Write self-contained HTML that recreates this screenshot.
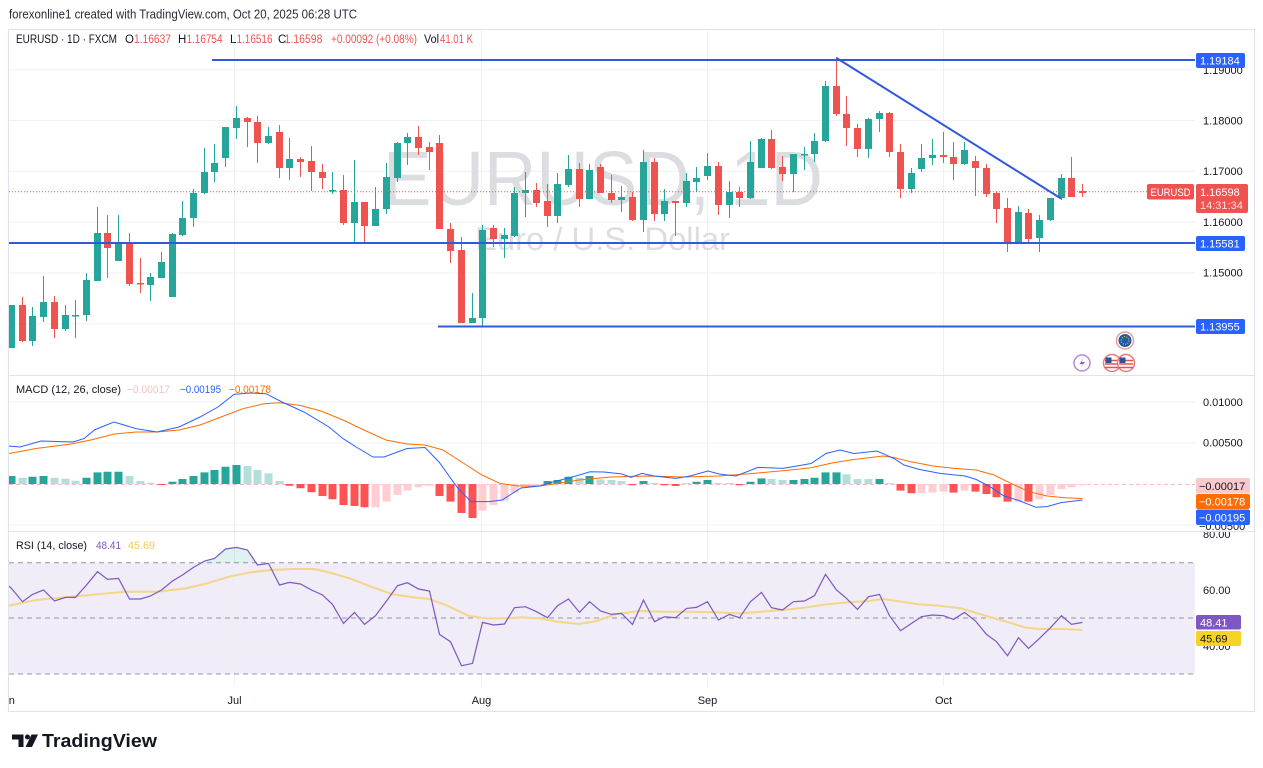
<!DOCTYPE html>
<html><head><meta charset="utf-8"><style>
html,body{margin:0;padding:0;background:#fff;}
svg{display:block;font-family:"Liberation Sans",Arial,sans-serif;}
</style></head><body>
<svg width="1263" height="768" viewBox="0 0 1263 768" xmlns="http://www.w3.org/2000/svg">
<defs>
<clipPath id="cm"><rect x="9" y="30" width="1186" height="345"/></clipPath>
<clipPath id="cd"><rect x="9" y="376" width="1186" height="155"/></clipPath>
<clipPath id="cr"><rect x="9" y="532" width="1186" height="154"/></clipPath>
<clipPath id="axm"><rect x="1195" y="30" width="60" height="345"/></clipPath>
<clipPath id="axd"><rect x="1195" y="376" width="60" height="155"/></clipPath>
<clipPath id="axr"><rect x="1195" y="532" width="60" height="154"/></clipPath>
<clipPath id="ct"><rect x="9" y="686" width="1186" height="26"/></clipPath>
</defs>
<rect width="1263" height="768" fill="#fff"/>
<text x="9" y="18.5" font-size="12.5" fill="#2a2e39" textLength="348" lengthAdjust="spacingAndGlyphs">forexonline1 created with TradingView.com, Oct 20, 2025 06:28 UTC</text>

<!-- frame -->
<rect x="8.5" y="29.5" width="1246" height="682" fill="none" stroke="#e0e3eb"/>

<!-- RSI band -->
<rect x="9" y="562.7" width="1186" height="111.3" fill="#f0ecf8"/>

<!-- grids -->
<g stroke="#eef0f4" stroke-width="1">
<path d="M9 69.7H1195M9 120.5H1195M9 171.3H1195M9 222H1195M9 272.9H1195M9 323.7H1195"/>
<path d="M9 402H1195M9 443H1195M9 525H1195"/>
<path d="M9 590H1195M9 646H1195"/>
<path d="M234.5 30V686M481.5 30V686M707.5 30V686M943.5 30V686"/>
</g>

<!-- watermark -->
<text x="383" y="205" font-size="77" fill="#dcdde0" textLength="440" lengthAdjust="spacingAndGlyphs">EURUSD, 1D</text>
<text x="475" y="250" font-size="32" fill="#dcdde0" textLength="255" lengthAdjust="spacingAndGlyphs">Euro / U.S. Dollar</text>

<g clip-path="url(#cm)">
<!-- green candles -->
<path fill="none" stroke="#26a69a" stroke-width="1" d="M11.5 305V348M32.5 307V346M43.5 276V322M65.5 305V331M75.5 300V338M86.5 273V321M97.5 207V281M118.5 215V261M150.5 273V301M161.5 252V278M172.5 233V297M182.5 201V236M193.5 189V227M204.5 148V194M214.5 144V182M225.5 127V167M236.5 106V139M268.5 127V144M289.5 138V180M332.5 172V194M354.5 160V242M375.5 187V226M386.5 163V214M397.5 142V182M407.5 133V165M472.5 293V323M482.5 225V327M504.5 228V258M514.5 187V237M525.5 172V217M557.5 173V223M568.5 155V187M589.5 164V199M621.5 186V212M643.5 150V232M664.5 189V221M686.5 173V207M696.5 167V192M707.5 153V180M729.5 181V218M750.5 141V199M761.5 138V168M793.5 154V192M804.5 147V170M814.5 133V162M825.5 81V142M868.5 118V158M879.5 111V132M911.5 168V193M921.5 144V172M932.5 139V165M964.5 142V165M1018.5 206V243M1039.5 215V252M1050.5 198V221M1061.5 174V200"/>
<path fill="#26a69a" d="M8 305h7V348h-7zM29 316h7V341h-7zM40 302h7V317h-7zM62 315h7V329h-7zM72 315h7V316.5h-7zM83 280h7V315h-7zM94 233h7V281h-7zM115 243h7V261h-7zM147 277h7V285h-7zM158 262h7V278h-7zM169 234h7V297h-7zM179 218h7V235h-7zM190 193h7V218h-7zM201 172h7V193h-7zM211 163h7V172h-7zM222 127h7V158h-7zM233 118h7V128h-7zM265 136h7V143h-7zM286 159h7V168h-7zM329 190h7V191.5h-7zM351 202h7V223h-7zM372 209h7V226h-7zM383 177h7V209h-7zM394 143h7V178h-7zM404 137h7V143h-7zM469 318h7V323h-7zM479 230h7V318h-7zM501 235h7V239h-7zM511 193h7V236h-7zM522 190h7V193h-7zM554 184h7V216h-7zM565 169h7V185h-7zM586 170h7V199h-7zM618 197h7V200h-7zM640 162h7V220h-7zM661 201h7V214h-7zM683 181h7V203h-7zM693 178h7V182h-7zM704 166h7V176h-7zM726 192h7V205h-7zM747 162h7V198h-7zM758 139h7V168h-7zM790 154h7V174h-7zM801 154h7V155.5h-7zM811 141h7V154h-7zM822 86h7V141h-7zM865 119h7V149h-7zM876 113h7V119h-7zM908 173h7V189h-7zM918 158h7V169h-7zM929 155h7V158h-7zM961 150h7V164h-7zM1015 212h7V242h-7zM1036 220h7V238h-7zM1047 198h7V220h-7zM1058 178h7V198h-7z"/>
<!-- red candles -->
<path fill="none" stroke="#ef5350" stroke-width="1" d="M22.5 297V342M54.5 296V338M107.5 215V278M129.5 233V286M140.5 258V293M247.5 117V147M257.5 116V163M279.5 125V178M300.5 157V177M311.5 146V191M322.5 164V189M343.5 175V225M364.5 202V243M418.5 126V155M429.5 142V170M439.5 135V229M450.5 223V263M461.5 237V323M493.5 225V247M536.5 183V207M547.5 184V227M579.5 163V207M600.5 164V193M611.5 175V203M632.5 192V221M654.5 158V221M675.5 201V236M718.5 162V215M739.5 187V207M771.5 130V169M782.5 156V181M836.5 57V116M846.5 96V146M857.5 124V157M889.5 112V157M900.5 144V198M943.5 132V163M953.5 142V180M975.5 156V196M986.5 164V197M996.5 191V223M1007.5 198V252M1028.5 209V243M1071.5 157V197M1082.5 184V197"/>
<path fill="#ef5350" d="M19 305h7V341h-7zM51 302h7V329h-7zM104 233h7V248h-7zM126 243h7V284h-7zM137 283h7V284.5h-7zM244 118h7V122h-7zM254 122h7V143h-7zM276 132h7V168h-7zM297 159h7V162h-7zM308 161h7V172h-7zM319 172h7V178h-7zM340 190h7V223h-7zM361 202h7V226h-7zM415 137h7V148h-7zM426 147h7V152h-7zM436 143h7V229h-7zM447 229h7V251h-7zM458 250h7V323h-7zM490 228h7V239h-7zM533 190h7V203h-7zM544 201h7V216h-7zM576 169h7V199h-7zM597 167h7V193h-7zM608 193h7V200h-7zM629 197h7V220h-7zM651 162h7V214h-7zM672 201h7V203h-7zM715 166h7V205h-7zM736 192h7V198h-7zM768 139h7V168h-7zM779 167h7V174h-7zM833 86h7V114h-7zM843 114h7V128h-7zM854 128h7V149h-7zM886 113h7V152h-7zM897 152h7V189h-7zM940 155h7V157h-7zM950 157h7V164h-7zM972 161h7V168h-7zM983 168h7V194h-7zM993 193h7V209h-7zM1004 208h7V242h-7zM1025 213h7V239h-7zM1068 178h7V197h-7zM1079 191h7V193h-7z"/>
<!-- price line -->
<path d="M9 191.7H1148" stroke="#ef5350" stroke-width="1" stroke-dasharray="1,2"/>
<!-- drawings -->
<g stroke="#2f5bd8" stroke-width="2" fill="none">
<path d="M212 60H1196"/>
<path d="M9 243H1196"/>
<path d="M438 326.5H1196"/>
<path d="M836.5 58L1061 198.5"/>
</g>
</g>

<!-- pane separators -->
<path d="M8.5 375.5H1254.5M8.5 531.5H1254.5" stroke="#e0e3eb" stroke-width="1"/>

<!-- MACD -->
<g clip-path="url(#cd)">
<path d="M9 484.5H1195" stroke="#f4bcc2" stroke-width="1" stroke-dasharray="4,3"/>
<path fill="#26a69a" d="M7.5 476h8V484h-8zM28.5 476.7h8V484h-8zM39.5 476h8V484h-8zM82.5 477.7h8V484h-8zM93.5 472.4h8V484h-8zM103.5 471.7h8V484h-8zM114.5 471.7h8V484h-8zM168.5 481.7h8V484h-8zM178.5 479h8V484h-8zM189.5 476h8V484h-8zM200.5 472.4h8V484h-8zM210.5 470h8V484h-8zM221.5 466.7h8V484h-8zM232.5 465h8V484h-8zM543.5 481h8V484h-8zM553.5 480h8V484h-8zM564.5 476.7h8V484h-8zM585.5 476h8V484h-8zM639.5 481h8V484h-8zM692.5 481.7h8V484h-8zM703.5 480h8V484h-8zM746.5 481.7h8V484h-8zM757.5 478.4h8V484h-8zM789.5 480h8V484h-8zM800.5 479h8V484h-8zM810.5 477.7h8V484h-8zM821.5 472.4h8V484h-8zM832.5 472.4h8V484h-8zM875.5 479h8V484h-8z"/>
<path fill="#b2dfdb" d="M18.5 477.7h8V484h-8zM50.5 477.7h8V484h-8zM61.5 478.7h8V484h-8zM71.5 480.7h8V484h-8zM125.5 476h8V484h-8zM136.5 481h8V484h-8zM146.5 482.7h8V484h-8zM243.5 466h8V484h-8zM253.5 470h8V484h-8zM264.5 473.4h8V484h-8zM275.5 481h8V484h-8zM575.5 477.7h8V484h-8zM596.5 479.4h8V484h-8zM607.5 480h8V484h-8zM617.5 481h8V484h-8zM650.5 483h8V484h-8zM682.5 483h8V484h-8zM714.5 483h8V484h-8zM725.5 483h8V484h-8zM767.5 479h8V484h-8zM778.5 480h8V484h-8zM842.5 474.4h8V484h-8zM853.5 479h8V484h-8zM864.5 479h8V484h-8zM885.5 483h8V484h-8z"/>
<path fill="#ff5252" d="M157.5 484h8V485h-8zM285.5 484h8V485.7h-8zM296.5 484h8V488.3h-8zM307.5 484h8V492.3h-8zM318.5 484h8V496h-8zM328.5 484h8V499.3h-8zM339.5 484h8V505h-8zM350.5 484h8V506h-8zM360.5 484h8V507.3h-8zM435.5 484h8V496h-8zM446.5 484h8V501.6h-8zM457.5 484h8V513h-8zM468.5 484h8V518h-8zM628.5 484h8V485.3h-8zM660.5 484h8V485.3h-8zM671.5 484h8V486h-8zM735.5 484h8V485.3h-8zM896.5 484h8V490.6h-8zM907.5 484h8V493.3h-8zM949.5 484h8V492.6h-8zM971.5 484h8V491.6h-8zM982.5 484h8V494h-8zM992.5 484h8V497.3h-8zM1003.5 484h8V501.6h-8zM1024.5 484h8V501.6h-8z"/>
<path fill="#ffcdd2" d="M371.5 484h8V507.3h-8zM382.5 484h8V501.6h-8zM393.5 484h8V495h-8zM403.5 484h8V490.6h-8zM414.5 484h8V487.3h-8zM425.5 484h8V486h-8zM478.5 484h8V510.6h-8zM489.5 484h8V505h-8zM500.5 484h8V500.6h-8zM510.5 484h8V492.6h-8zM521.5 484h8V487.3h-8zM532.5 484h8V486h-8zM917.5 484h8V493.3h-8zM928.5 484h8V492.6h-8zM939.5 484h8V491.6h-8zM960.5 484h8V490.6h-8zM1014.5 484h8V501.6h-8zM1035.5 484h8V499.3h-8zM1046.5 484h8V495h-8zM1057.5 484h8V489.3h-8zM1067.5 484h8V487.3h-8zM1078.5 484h8V485.4h-8z"/>
<polyline fill="none" stroke="#ff6d00" stroke-width="1" points="9,453.5 36,448.5 71,444 93,439.5 114,434 136,432 157,432 179,430 200,425 221,417 243,408.7 264,403.7 279,402.7 300,405.4 321,411 343,420 364,430 386,440 407,444 425,445 443,450 464,463.5 482,475 500,483.4 518,486 540,486 558,483.4 579,480 611,477 647,476 683,477 719,476 754,473.4 790,470 811,467.8 833,462.8 854,459.5 883,456 894,457.5 911,461.8 933,466 954,468.4 976,470 994,475 1011,483.4 1029,491.7 1047,496 1065,497.7 1082.5,498.6"/>
<polyline fill="none" stroke="#2962ff" stroke-width="1" points="9,446 20,447 41,441 73,442 84,438.6 95,429.6 114,422 136,428.6 157,432 179,427 200,417 218,407 234,394.4 250,393 266,393.7 282,402 304,412 329,427 343,438.6 357,447.5 373,457 384,457 407,448.5 425,447.5 439,462 457,487 471,501.6 489,501.6 502,500 521,488 540,486 554,481.7 576,476 590,471.8 604,472 622,474 631,477.4 642,473.4 654,476 676,478.4 690,476 708,471 719,474 736,476 758,467.4 783,468.4 797,466 811,463.5 826,453.5 840,450 854,453.5 877,451 894,458.5 904,465 919,469.4 940,473.4 965,476 976,479.4 990,486.7 1004,496 1019,500.6 1036,507.3 1047,506.6 1061,502.6 1082.5,500"/>
</g>

<!-- RSI -->
<g clip-path="url(#cr)">
<g stroke="#9598a1" stroke-width="1" stroke-dasharray="5,4">
<path d="M9 562.7H1195M9 618H1195M9 674H1195"/>
</g>
<polygon points="200,562.7 204.5,561 214.5,558.4 225.5,549 236.5,547.4 247.5,550 255.5,562.7" fill="rgba(38,166,154,0.15)"/>
<polyline fill="none" stroke="#f3d68a" stroke-width="2" points="9,605.7 36,600 71,596.7 107,593.4 125,591.7 157,591.7 186,588.4 207,583.4 229,576.7 250,572.4 271,570 293,569 314,569 329,572.4 350,578.4 371,586.7 393,594.4 414,597.4 429,599 446,605 468,615.7 486,618.4 507,618.4 521,617.4 540,618.4 558,621.7 579,624 597,621 615,614.4 640,611 665,611.7 690,611.7 719,612.4 740,613.4 761,611.7 783,610 804,607.7 826,604.4 847,602.4 869,601 883,599 897,601 919,604.4 940,605.7 961,608.4 983,615 1004,621 1026,627.7 1040,629 1061,629 1082.5,630"/>
<polyline fill="none" stroke="#7e57c2" stroke-width="1.2" points="9,586 11.5,588.4 22.5,601.7 32.5,594.4 43.5,590 54.5,601 65.5,597.4 75.5,597.4 86.5,585 97.5,571.7 107.5,579.4 118.5,578.4 129.5,599 140.5,599 150.5,596 161.5,590 172.5,581 182.5,575 193.5,567.4 204.5,561 214.5,558.4 225.5,549 236.5,547.4 247.5,550 257.5,565 268.5,563.4 279.5,585 289.5,582.4 300.5,584 311.5,590 322.5,595 332.5,604.4 343.5,623.4 354.5,612.4 364.5,624.4 375.5,615.7 386.5,601 397.5,585.7 407.5,582.7 418.5,589 429.5,591 439.5,634.4 450.5,641.7 461.5,665.7 472.5,663.4 482.5,622.4 493.5,625 504.5,624 514.5,607.7 525.5,606.7 536.5,611.7 547.5,617.7 557.5,605.7 568.5,599 579.5,612.4 589.5,601.7 600.5,611 611.5,614.4 621.5,613.4 632.5,624.4 643.5,600 654.5,621.7 664.5,616.7 675.5,617.7 686.5,608.4 696.5,607.4 707.5,601.7 718.5,620 729.5,614.4 739.5,617.7 750.5,601.7 761.5,592.4 771.5,607.7 782.5,610 793.5,601.7 804.5,601 814.5,595.7 825.5,574.4 836.5,590 846.5,598.4 857.5,609.4 868.5,596.7 879.5,594.4 889.5,615.7 900.5,630.7 911.5,623.4 921.5,616.7 932.5,615 943.5,615.7 953.5,619.4 964.5,612.4 975.5,621 986.5,634.4 996.5,641.7 1007.5,655.7 1018.5,637.7 1028.5,648.4 1039.5,638.4 1050.5,627.7 1061.5,615.7 1071.5,624.4 1082.5,622.4"/>
</g>

<!-- legends -->
<g font-size="11.5" fill="#131722">
<text x="16" y="43" textLength="101" lengthAdjust="spacingAndGlyphs">EURUSD · 1D · FXCM</text>
<text x="125" y="43">O</text>
<text x="178" y="43">H</text>
<text x="230" y="43">L</text>
<text x="278" y="43">C</text>
<text x="424" y="43" textLength="15" lengthAdjust="spacingAndGlyphs">Vol</text>
</g>
<g font-size="11.5" fill="#ef5350">
<text x="134" y="43" textLength="37" lengthAdjust="spacingAndGlyphs">1.16637</text>
<text x="186.5" y="43" textLength="36" lengthAdjust="spacingAndGlyphs">1.16754</text>
<text x="236.5" y="43" textLength="36" lengthAdjust="spacingAndGlyphs">1.16516</text>
<text x="284.5" y="43" textLength="38" lengthAdjust="spacingAndGlyphs">1.16598</text>
<text x="331" y="43" textLength="86" lengthAdjust="spacingAndGlyphs">+0.00092 (+0.08%)</text>
<text x="440" y="43" textLength="33" lengthAdjust="spacingAndGlyphs">41.01 K</text>
</g>
<g font-size="11">
<text x="16" y="393" fill="#131722" textLength="105" lengthAdjust="spacingAndGlyphs">MACD (12, 26, close)</text>
<text x="127" y="393" fill="#f5c0c6" textLength="43" lengthAdjust="spacingAndGlyphs">−0.00017</text>
<text x="180" y="393" fill="#2962ff" textLength="41" lengthAdjust="spacingAndGlyphs">−0.00195</text>
<text x="229" y="393" fill="#ff6d00" textLength="42" lengthAdjust="spacingAndGlyphs">−0.00178</text>
<text x="16" y="549" fill="#131722" textLength="71" lengthAdjust="spacingAndGlyphs">RSI (14, close)</text>
<text x="96" y="549" fill="#7e57c2" textLength="25" lengthAdjust="spacingAndGlyphs">48.41</text>
<text x="128" y="549" fill="#f2cd4b" textLength="27" lengthAdjust="spacingAndGlyphs">45.69</text>
</g>

<!-- price axis -->
<g font-size="11" fill="#131722">
<g clip-path="url(#axm)">
<text x="1203" y="74">1.19000</text>
<text x="1203" y="124.5">1.18000</text>
<text x="1203" y="175">1.17000</text>
<text x="1203" y="226">1.16000</text>
<text x="1203" y="276.5">1.15000</text>
<text x="1203" y="327.5">1.14000</text>
</g>
<g clip-path="url(#axd)">
<text x="1203" y="406">0.01000</text>
<text x="1203" y="446.5">0.00500</text>
<text x="1199" y="530">−0.00500</text>
</g>
<g clip-path="url(#axr)">
<text x="1203" y="538">80.00</text>
<text x="1203" y="594">60.00</text>
<text x="1203" y="650">40.00</text>
</g>
</g>
<g font-size="11">
<rect x="1196" y="53" width="49" height="15" rx="2" fill="#2962ff"/>
<text x="1200" y="64.5" fill="#fff">1.19184</text>
<rect x="1147" y="184" width="47" height="15.5" rx="2" fill="#ef5350"/>
<text x="1150.5" y="196" fill="#fff" textLength="40" lengthAdjust="spacingAndGlyphs">EURUSD</text>
<rect x="1196" y="184" width="52" height="29" rx="2" fill="#ef5350"/>
<text x="1200" y="196" fill="#fff">1.16598</text>
<text x="1200" y="209" fill="#fde3e3">14:31:34</text>
<rect x="1196" y="236" width="49" height="15" rx="2" fill="#2962ff"/>
<text x="1200" y="247.5" fill="#fff">1.15581</text>
<rect x="1196" y="319" width="49" height="15" rx="2" fill="#2962ff"/>
<text x="1200" y="330.5" fill="#fff">1.13955</text>
<rect x="1196" y="478" width="54" height="15.5" rx="2" fill="#f8c9cd"/>
<text x="1199" y="490" fill="#131722">−0.00017</text>
<rect x="1196" y="494" width="54" height="15" rx="2" fill="#ff6d00"/>
<text x="1199" y="505.5" fill="#fff">−0.00178</text>
<rect x="1196" y="509.5" width="54" height="15.5" rx="2" fill="#2962ff"/>
<text x="1199" y="521.5" fill="#fff">−0.00195</text>
<rect x="1196" y="615" width="45" height="14.5" rx="2" fill="#7e57c2"/>
<text x="1200" y="626.5" fill="#fff">48.41</text>
<rect x="1196" y="631" width="45" height="15" rx="2" fill="#f5d327"/>
<text x="1200" y="642.5" fill="#131722">45.69</text>
</g>

<!-- event icons -->
<g>
<circle cx="1125" cy="340.5" r="8.5" fill="#fff" stroke="#f09a9a" stroke-width="1.5"/>
<circle cx="1125" cy="340.5" r="6.5" fill="#1f5aa6"/>
<circle cx="1125" cy="340.5" r="3.8" fill="none" stroke="#f5d44a" stroke-width="1" stroke-dasharray="1,1.4"/>
<circle cx="1082" cy="363" r="8" fill="#fff" stroke="#b48ad8" stroke-width="1.5"/>
<path d="M1084 357.5L1079.5 364H1083L1080 368.5L1085 362H1081.5Z" fill="#8e5cc8"/>
<circle cx="1112" cy="363" r="8.5" fill="#fff" stroke="#ea7b7b" stroke-width="1.5"/>
<path d="M1105 360.5H1119M1105 364H1119M1105 367.5H1119" stroke="#e05454" stroke-width="1.6"/>
<path d="M1105.5 357.5H1111.5V363H1105.5Z" fill="#2d4fa0"/>
<circle cx="1126" cy="363" r="8.5" fill="#fff" stroke="#ea7b7b" stroke-width="1.5"/>
<path d="M1119 360.5H1133M1119 364H1133M1119 367.5H1133" stroke="#e05454" stroke-width="1.6"/>
<path d="M1119.5 357.5H1125.5V363H1119.5Z" fill="#2d4fa0"/>
</g>

<!-- time axis -->
<g font-size="11" fill="#131722" text-anchor="middle">
<g clip-path="url(#ct)"><text x="6" y="704">Jun</text></g>
<text x="234.5" y="704">Jul</text>
<text x="481.5" y="704">Aug</text>
<text x="707.5" y="704">Sep</text>
<text x="943.5" y="704">Oct</text>
</g>

<!-- TradingView logo -->
<g fill="#131722">
<path d="M12 734.5H23.5V747H18.5V739.5H12Z"/>
<circle cx="27.5" cy="737" r="2.5"/>
<path d="M31.5 734.5H38L32 747H25.5Z"/>
</g>
<text x="42" y="747" font-size="18.5" font-weight="bold" fill="#131722" textLength="115" lengthAdjust="spacingAndGlyphs">TradingView</text>
</svg>
</body></html>
